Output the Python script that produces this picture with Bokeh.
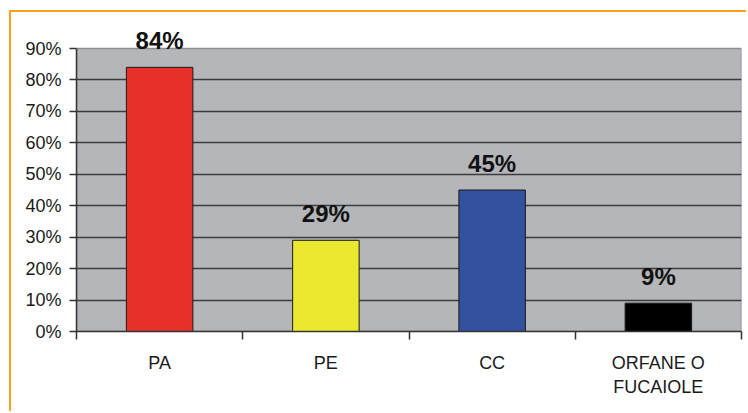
from bokeh.plotting import figure
from bokeh.models import (Range1d, FixedTicker, NumeralTickFormatter, ColumnDataSource, LabelSet)
from bokeh.core.properties import value
from bokeh.embed import file_html
from bokeh.resources import INLINE

categories = ["PA", "PE", "CC", "ORFANE O\nFUCAIOLE"]
values = [0.84, 0.29, 0.45, 0.09]
colors = ["#e8302b", "#ece82e", "#34519f", "#000000"]
y_ticks = [0.0, 0.1, 0.2, 0.3, 0.4, 0.5, 0.6, 0.7, 0.8, 0.9]
y_max = 0.9

xs = [i + 0.5 for i in range(len(categories))]
labels = [f"{round(v * 100)}%" for v in values]
src = ColumnDataSource(dict(x=xs, top=values, color=colors, label=labels))

# layout (pixels inside the canvas)
W, H = 737, 401
left_b, right_b, bottom_b = 65, 7, 82
frame_h = H - bottom_b          # frame reaches the top of the canvas
plot_top_px = 36                # where the 90% line sits inside the frame
y_top = y_max * frame_h / (frame_h - plot_top_px)

p = figure(width=W, height=H, output_backend="svg", toolbar_location=None,
           x_range=Range1d(0, len(categories)), y_range=Range1d(0, y_top),
           min_border_left=left_b, min_border_right=right_b, min_border_top=0,
           min_border_bottom=bottom_b)
p.styles = {"margin-left": "9px", "margin-top": "10px",
            "border-left": "2px solid #f7a21b", "border-top": "2px solid #f7a21b"}

p.background_fill_color = "white"
p.border_fill_color = "white"
p.outline_line_color = None

# grey plotting area
p.quad(left=[0], right=[len(categories)], bottom=[0], top=[y_max],
       fill_color="#b4b6b9", line_color="#8e8e8e", line_width=1.5, level="image")

p.vbar(x="x", top="top", width=0.4, bottom=0, fill_color="color",
       line_color="#1a1a1a", line_width=1, source=src)

p.add_layout(LabelSet(x="x", y="top", text="label", source=src, y_offset=13,
                      text_align="center", text_baseline="bottom",
                      text_font=value("Liberation Sans"), text_font_style="bold",
                      text_font_size="24px", text_color="#111111"))

# y axis
p.yaxis.bounds = (0, y_max)
p.yaxis.ticker = FixedTicker(ticks=y_ticks)
p.yaxis.formatter = NumeralTickFormatter(format="0%")
p.yaxis.major_label_text_font = "Liberation Sans"
p.yaxis.major_label_text_font_size = "18px"
p.yaxis.major_label_text_color = "#1a1a1a"
p.yaxis.major_tick_in = 0
p.yaxis.major_tick_out = 7
p.yaxis.minor_tick_line_color = None
p.yaxis.major_label_standoff = 8
p.yaxis.axis_line_color = "#333333"
p.yaxis.axis_line_width = 1.5
p.yaxis.major_tick_line_color = "#333333"
p.yaxis.major_tick_line_width = 1.5

# x axis: labels at centres, ticks at category boundaries
p.xaxis.ticker = FixedTicker(ticks=xs, minor_ticks=list(range(len(categories) + 1)))
p.xaxis.major_label_overrides = {x: c for x, c in zip(xs, categories)}
p.xaxis.major_tick_in = 0
p.xaxis.major_tick_out = 0
p.xaxis.minor_tick_in = 0
p.xaxis.minor_tick_out = 8
p.xaxis.minor_tick_line_color = "#333333"
p.xaxis.minor_tick_line_width = 1.5
p.xaxis.major_label_standoff = 13
p.xaxis.major_label_text_font = "Liberation Sans"
p.xaxis.major_label_text_font_size = "18px"
p.xaxis.major_label_text_color = "#1a1a1a"
p.xaxis.axis_line_color = "#333333"
p.xaxis.axis_line_width = 1.5

p.xgrid.grid_line_color = None
p.ygrid.ticker = FixedTicker(ticks=y_ticks[1:-1])
p.ygrid.grid_line_color = "#3c3c3c"
p.ygrid.grid_line_width = 1.5

open("out.html", "w").write(file_html(p, INLINE))
